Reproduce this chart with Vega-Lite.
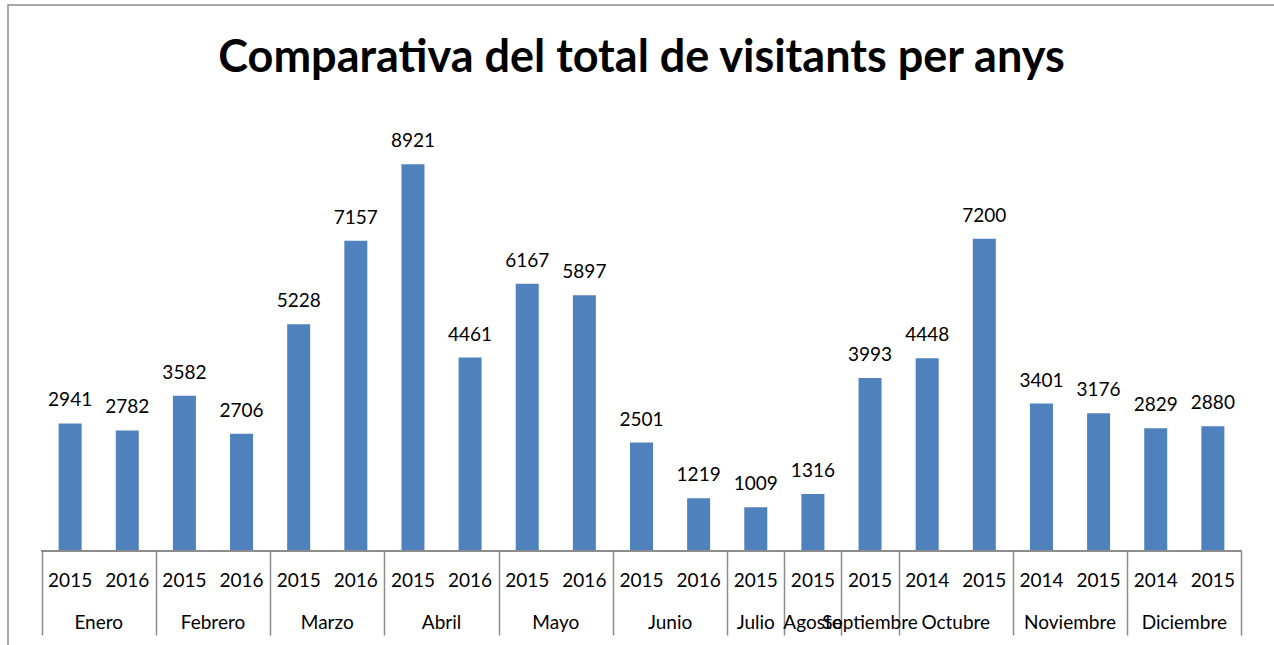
{
  "$schema": "https://vega.github.io/schema/vega-lite/v6.json",
  "width": 1267,
  "height": 645,
  "autosize": {"type": "none"},
  "padding": {"left": 8, "top": 5, "right": 0, "bottom": 0},
  "background": "white",
  "title": {
    "text": "Comparativa del total de visitants per anys",
    "font": "Lato",
    "fontSize": 45,
    "fontWeight": "bold",
    "color": "#000000",
    "anchor": "middle",
    "frame": "group",
    "baseline": "top",
    "offset": -76
  },
  "config": {
    "view": {"stroke": "#8c8c8c", "strokeWidth": 1.5},
    "text": {"font": "Lato", "fontSize": 19, "color": "#000000"}
  },
  "data": {
    "values": [
      {"idx": 1, "month": "Enero", "year": "2015", "value": 2941},
      {"idx": 2, "month": "Enero", "year": "2016", "value": 2782},
      {"idx": 3, "month": "Febrero", "year": "2015", "value": 3582},
      {"idx": 4, "month": "Febrero", "year": "2016", "value": 2706},
      {"idx": 5, "month": "Marzo", "year": "2015", "value": 5228},
      {"idx": 6, "month": "Marzo", "year": "2016", "value": 7157},
      {"idx": 7, "month": "Abril", "year": "2015", "value": 8921},
      {"idx": 8, "month": "Abril", "year": "2016", "value": 4461},
      {"idx": 9, "month": "Mayo", "year": "2015", "value": 6167},
      {"idx": 10, "month": "Mayo", "year": "2016", "value": 5897},
      {"idx": 11, "month": "Junio", "year": "2015", "value": 2501},
      {"idx": 12, "month": "Junio", "year": "2016", "value": 1219},
      {"idx": 13, "month": "Julio", "year": "2015", "value": 1009},
      {"idx": 14, "month": "Agosto", "year": "2015", "value": 1316},
      {"idx": 15, "month": "Septiembre", "year": "2015", "value": 3993},
      {"idx": 16, "month": "Octubre", "year": "2014", "value": 4448},
      {"idx": 17, "month": "Octubre", "year": "2015", "value": 7200},
      {"idx": 18, "month": "Noviembre", "year": "2014", "value": 3401},
      {"idx": 19, "month": "Noviembre", "year": "2015", "value": 3176},
      {"idx": 20, "month": "Diciembre", "year": "2014", "value": 2829},
      {"idx": 21, "month": "Diciembre", "year": "2015", "value": 2880}
    ]
  },
  "encoding": {
    "x": {
      "field": "idx",
      "type": "quantitative",
      "scale": {"domain": [0, 22], "nice": false, "zero": false},
      "axis": {
        "values": [0.5, 2.5, 4.5, 6.5, 8.5, 10.5, 12.5, 13.5, 14.5, 15.5, 17.5, 19.5, 21.5],
        "offset": -99,
        "tickSize": 84,
        "tickColor": "#8c8c8c",
        "tickWidth": 1.5,
        "labels": false,
        "domain": false,
        "grid": false,
        "title": null
      }
    }
  },
  "layer": [
    {
      "mark": {"type": "bar", "size": 23, "color": "#4F81BD"},
      "encoding": {
        "y": {
          "field": "value",
          "type": "quantitative",
          "scale": {"domain": [-2284, 12595], "nice": false, "zero": false},
          "axis": null
        },
        "y2": {"datum": 0}
      }
    },
    {
      "mark": {"type": "text", "baseline": "alphabetic", "dy": -17},
      "encoding": {
        "y": {"field": "value", "type": "quantitative"},
        "text": {"field": "value", "type": "quantitative", "format": "d"}
      }
    },
    {
      "mark": {"type": "text", "baseline": "alphabetic", "dy": 36},
      "encoding": {
        "y": {"datum": 0},
        "text": {"field": "year", "type": "nominal"}
      }
    },
    {
      "mark": {"type": "text", "baseline": "alphabetic", "dy": 78},
      "encoding": {
        "x": {"aggregate": "mean", "field": "idx", "type": "quantitative"},
        "y": {"datum": 0},
        "text": {"field": "month", "type": "nominal"}
      }
    },
    {
      "mark": {"type": "rule", "color": "#8c8c8c", "strokeWidth": 1.5},
      "encoding": {
        "x": {"datum": 0.5},
        "x2": {"datum": 21.5},
        "y": {"datum": 0}
      }
    }
  ]
}
